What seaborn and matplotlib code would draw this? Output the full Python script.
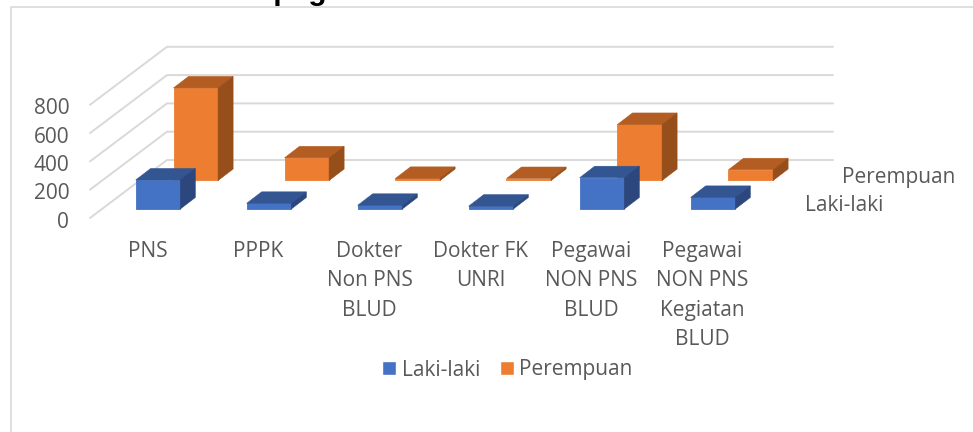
import matplotlib
matplotlib.use("Agg")
import matplotlib.pyplot as plt
from matplotlib.patches import Patch, Polygon
import pandas as pd
import seaborn as sns

categories = ["PNS", "PPPK", "Dokter\nNon PNS\nBLUD", "Dokter FK\nUNRI",
              "Pegawai\nNON PNS\nBLUD", "Pegawai\nNON PNS\nKegiatan\nBLUD"]
laki_laki = [205, 40, 26, 20, 221, 82]
perempuan = [654, 160, 15, 14, 396, 76]
y_ticks = [0, 200, 400, 600, 800]
title_text = "Kepegawaian Menurut Jenis Kelamin"

W, H = 973, 432
PX_PER_UNIT = 0.1415
PX_PER_CAT = 111.0
BAR_PX = 44.6
DEPTH_X, DEPTH_Y = 15.0, 11.5

sns.set_theme(style="white")
plt.rcParams["font.family"] = ["Open Sans", "DejaVu Sans"]
TXT = "#595959"
FS = 15

fig = plt.figure(figsize=(W / 100, H / 100), dpi=100)


def scaled_axes(x0, y0, left=0, bottom=H, zorder=1):
    """Transparent axes where category 0 sits at pixel x0 and value 0 at pixel y0."""
    ax = fig.add_axes([left / W, 1 - bottom / H, (W - left) / W, bottom / H], zorder=zorder)
    ax.set_xlim((left - x0) / PX_PER_CAT, (W - x0) / PX_PER_CAT)
    ax.set_ylim((y0 - bottom) / PX_PER_UNIT, y0 / PX_PER_UNIT)
    ax.patch.set_alpha(0)
    sns.despine(ax=ax, left=True, bottom=True, right=True, top=True)
    ax.set_xticks([])
    ax.set_yticks([])
    ax.set_xlabel("")
    ax.set_ylabel("")
    return ax


def bars_3d(ax, values, front, top, side):
    df = pd.DataFrame({"x": range(len(values)), "v": values})
    xlim, ylim = ax.get_xlim(), ax.get_ylim()
    sns.barplot(data=df, x="x", y="v", ax=ax, color=front, saturation=1,
                width=BAR_PX / PX_PER_CAT, native_scale=True, edgecolor=front,
                linewidth=0.6, zorder=3)
    dx, dy = DEPTH_X / PX_PER_CAT, DEPTH_Y / PX_PER_UNIT
    for b in list(ax.patches):
        x, w, h = b.get_x(), b.get_width(), b.get_height()
        ax.add_patch(Polygon([(x, h), (x + w, h), (x + w + dx, h + dy), (x + dx, h + dy)],
                             fc=top, ec=top, lw=0.4, zorder=3))
        ax.add_patch(Polygon([(x + w, 0), (x + w + dx, dy), (x + w + dx, h + dy), (x + w, h)],
                             fc=side, ec=side, lw=0.4, zorder=3))
    ax.set_xlim(xlim)
    ax.set_ylim(ylim)
    ax.set_xticks([])
    ax.set_yticks([])
    ax.set_xlabel("")
    ax.set_ylabel("")


# chart frame (runs off the right and bottom of the picture)
bg = fig.add_axes([0, 0, 1, 1], zorder=0)
bg.set_xlim(0, W)
bg.set_ylim(H, 0)
bg.axis("off")
bg.plot([10.5, 10.5, W + 5], [H + 5, 6.5, 6.5], color="#d9d9d9", lw=1.2, clip_on=False)

# walls and gridlines, on the value scale of the back wall
wall = scaled_axes(158, 160, zorder=1)
xl, xb, xr = (90 - 158) / PX_PER_CAT, (167 - 158) / PX_PER_CAT, (833 - 158) / PX_PER_CAT
drop = (218 - 160) / PX_PER_UNIT
for v in y_ticks:
    wall.plot([xl, xb, xr], [v - drop, v, v], color="#d9d9d9", lw=1.4, solid_joinstyle="miter")

ax_p = scaled_axes(195.8, 180.5, zorder=2)
bars_3d(ax_p, perempuan, "#ED7D31", "#B35D22", "#964E1A")
ax_l = scaled_axes(158, 209, zorder=3)
bars_3d(ax_l, laki_laki, "#4472C4", "#335693", "#2B477D")

# tick labels live on their own value/category axes
lab = scaled_axes(147.5, 219.5, left=72, bottom=238, zorder=4)
lab.set_xticks(range(len(categories)))
lab.set_xticklabels(categories, fontsize=FS, color=TXT, linespacing=1.53, va="top")
lab.set_yticks(y_ticks)
lab.set_yticklabels([str(v) for v in y_ticks], fontsize=FS, color=TXT)
lab.tick_params(axis="both", length=0, pad=2)

# depth-axis series labels
fig.text(842 / W, 1 - 178 / H, "Perempuan", fontsize=FS, color=TXT, ha="left", va="center")
fig.text(805 / W, 1 - 205.5 / H, "Laki-laki", fontsize=FS, color=TXT, ha="left", va="center")

fig.legend(handles=[Patch(fc="#4472C4", label="Laki-laki"), Patch(fc="#ED7D31", label="Perempuan")],
           loc="center", bbox_to_anchor=(507.5 / W, 1 - 370 / H), ncols=2, frameon=False,
           fontsize=FS, labelcolor=TXT, handlelength=0.67, handleheight=0.67,
           handletextpad=0.26, columnspacing=0.94, borderpad=0)

fig.text(235 / W, 1, title_text, fontsize=21.6, fontweight="bold", color="black",
         family=["Liberation Sans", "DejaVu Sans"], ha="left", va="baseline")

fig.savefig("out.png", dpi=100)
